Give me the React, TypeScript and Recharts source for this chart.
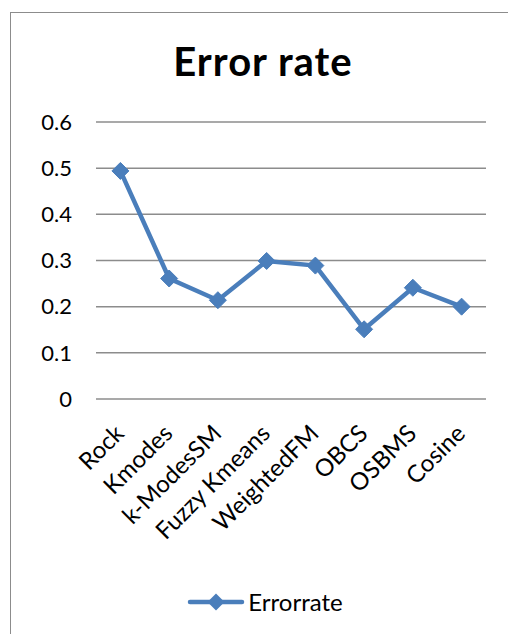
import { CartesianGrid, Legend, Line, LineChart, XAxis, YAxis } from "recharts";

const categories = ["Rock", "Kmodes", "k-ModesSM", "Fuzzy Kmeans", "WeightedFM", "OBCS", "OSBMS", "Cosine"];
const errorRate = [0.494, 0.261, 0.214, 0.299, 0.289, 0.151, 0.241, 0.2];
const yTicks = [0, 0.1, 0.2, 0.3, 0.4, 0.5, 0.6];

const data = categories.map((name, i) => ({ name, Errorrate: errorRate[i] }));

const FONT = "Lato, Carlito, Calibri, sans-serif";
const BLUE = "#4a7ebb";

const Diamond = (props: any) => {
  const { cx, cy } = props;
  if (cx == null || cy == null) return null;
  const r = 8.5;
  return (
    <path
      d={`M${cx},${cy - r} L${cx + r},${cy} L${cx},${cy + r} L${cx - r},${cy} Z`}
      fill={BLUE}
      stroke={BLUE}
      strokeWidth={1}
    />
  );
};

const CategoryTick = (props: any) => {
  const { x, y, payload } = props;
  return (
    <g transform={`translate(${x + 5},${y + 28})`}>
      <text
        x={0}
        y={0}
        textAnchor="end"
        transform="rotate(-45)"
        fontSize={24}
        fontFamily={FONT}
        fill="#000"
      >
        {payload.value}
      </text>
    </g>
  );
};

const LegendContent = () => (
  <div style={{ display: "flex", alignItems: "center", justifyContent: "center", fontFamily: FONT, height: 20 }}>
    <svg width={58} height={18}>
      <line x1={3} y1={9} x2={55} y2={9} stroke={BLUE} strokeWidth={4.5} strokeLinecap="round" />
      <path d="M29,0.5 L37.5,9 L29,17.5 L20.5,9 Z" fill={BLUE} />
    </svg>
    <span style={{ fontSize: 24, color: "#000", marginLeft: 3, lineHeight: "20px" }}>Errorrate</span>
  </div>
);

export default function App() {
  return (
    <div style={{ position: "absolute", left: 0, top: 0, width: 508, height: 634, overflow: "hidden", background: "#fff" }}>
      <div
        style={{
          position: "absolute",
          left: 10,
          top: 12,
          width: 530,
          height: 660,
          border: "1px solid #8c8c8c",
        }}
      />
      <div
        style={{
          position: "absolute",
          left: 0,
          top: 37,
          width: 526,
          textAlign: "center",
          fontFamily: FONT,
          fontWeight: "bold",
          fontSize: 40,
          letterSpacing: 1,
          color: "#000",
        }}
      >
        Error rate
      </div>
      <div style={{ position: "absolute", left: 0, top: 0 }}>
        <LineChart width={508} height={634} data={data} margin={{ top: 122, right: 22, bottom: 185, left: 0 }}>
          <CartesianGrid vertical={false} stroke="#8c8c8c" strokeWidth={1.5} />
          <XAxis
            dataKey="name"
            axisLine={false}
            tickLine={false}
            interval={0}
            height={30}
            padding={{ left: 24.4, right: 24.4 }}
            tick={<CategoryTick />}
          />
          <YAxis
            width={96}
            domain={[0, 0.6]}
            ticks={yTicks}
            axisLine={false}
            tickLine={false}
            tickSize={0}
            tickMargin={24}
            tick={{ fontSize: 22, fill: "#000", fontFamily: FONT }}
          />
          <Legend
            content={<LegendContent />}
            wrapperStyle={{ position: "absolute", left: 0, top: 592, width: 530 }}
          />
          <Line
            type="linear"
            dataKey="Errorrate"
            stroke={BLUE}
            strokeWidth={4.5}
            dot={<Diamond />}
            activeDot={false}
            isAnimationActive={false}
          />
        </LineChart>
      </div>
    </div>
  );
}
